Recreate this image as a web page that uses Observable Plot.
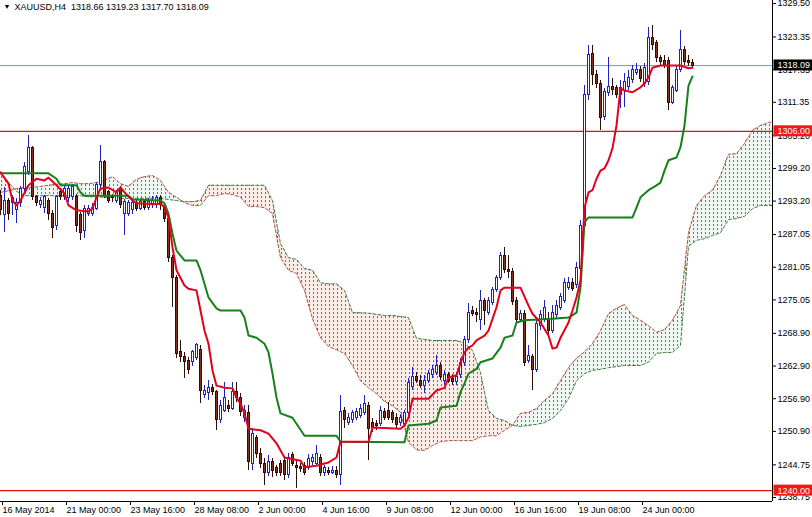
<!DOCTYPE html>
<html><head><meta charset="utf-8">
<script src="https://cdn.jsdelivr.net/npm/d3@7"></script>
<script src="https://cdn.jsdelivr.net/npm/@observablehq/plot@0.6"></script>
<style>
html,body{margin:0;padding:0;background:#fff;}
#chart{width:812px;height:517px;overflow:hidden;}
</style></head><body><div id="chart"></div>
<script>
// ---------- data ----------
const symbolName = "XAUUSD,H4";
const tickBars = [0,16,32,48,64,80,96,112,128,144,160];
const tickLabels = ["16 May 2014","21 May 00:00","23 May 16:00","28 May 08:00","2 Jun 00:00","4 Jun 16:00","9 Jun 08:00","12 Jun 00:00","16 Jun 16:00","19 Jun 08:00","24 Jun 00:00"];
const priceTicks = [1329.50,1323.35,1317.35,1311.35,1305.20,1299.20,1293.20,1287.05,1281.05,1275.05,1268.90,1262.90,1256.90,1250.90,1244.75,1238.75];
const xDomain = [0, 193];
const yDomain = [1238.02, 1330.05];

const openP = [1294.2,1290.6,1293.3,1292.8,1291.5,1292.8,1295.5,1298.5,1302.9,1293.9,1292.4,1292.0,1293.3,1290.9,1288.7,1294.8,1293.9,1293.7,1293.9,1293.9,1290.6,1287.8,1290.9,1290.9,1291.8,1296.1,1300.3,1294.8,1293.9,1293.3,1295.2,1290.9,1290.9,1291.5,1292.8,1291.8,1293.0,1292.0,1292.4,1292.4,1293.7,1292.0,1290.0,1282.8,1279.0,1265.4,1264.5,1263.9,1263.6,1264.3,1265.8,1257.5,1257.9,1258.8,1258.1,1252.9,1254.7,1255.6,1255.1,1258.1,1257.1,1253.3,1254.2,1245.0,1249.6,1246.8,1245.0,1243.3,1245.2,1244.1,1245.0,1245.5,1242.8,1246.5,1244.6,1244.4,1244.6,1244.1,1245.2,1245.0,1246.1,1243.2,1243.7,1243.3,1243.7,1242.8,1254.7,1252.5,1252.9,1253.4,1253.8,1254.2,1255.6,1252.5,1252.2,1252.3,1254.4,1254.7,1254.2,1253.4,1252.5,1252.3,1254.2,1259.0,1260.8,1260.2,1259.3,1260.2,1261.2,1261.7,1263.0,1260.2,1261.2,1260.6,1259.9,1261.2,1263.4,1267.6,1273.1,1272.7,1271.3,1274.9,1272.7,1274.4,1276.8,1279.0,1283.2,1280.5,1280.1,1274.9,1271.3,1272.5,1263.9,1264.5,1262.1,1270.3,1271.6,1271.6,1269.4,1272.2,1273.5,1274.9,1277.3,1278.1,1277.7,1280.8,1288.7,1312.6,1320.3,1316.3,1314.8,1308.6,1313.0,1314.1,1313.9,1312.6,1313.5,1314.1,1315.4,1316.8,1317.2,1314.8,1315.0,1323.1,1322.2,1319.4,1319.0,1319.0,1311.3,1313.5,1317.2,1320.9,1319.0,1318.66];
const highP = [1295.2,1295.7,1293.7,1294.2,1293.7,1295.9,1300.3,1305.2,1303.2,1294.2,1293.9,1294.2,1293.7,1291.5,1294.2,1295.5,1296.1,1296.1,1296.2,1294.4,1291.1,1292.4,1292.4,1292.8,1296.6,1303.4,1300.7,1295.2,1294.4,1295.2,1295.9,1293.5,1293.3,1293.3,1293.3,1293.5,1293.5,1293.7,1294.1,1294.2,1294.2,1292.6,1290.6,1283.2,1279.5,1267.6,1265.4,1264.5,1265.8,1267.0,1266.7,1259.3,1260.2,1259.5,1258.4,1256.6,1259.9,1256.6,1259.9,1259.9,1257.9,1255.6,1255.6,1251.4,1250.1,1247.7,1245.9,1246.5,1245.9,1244.6,1245.5,1246.1,1246.8,1247.0,1245.5,1245.0,1245.2,1246.6,1246.6,1248.3,1246.6,1244.6,1244.3,1244.4,1244.4,1257.5,1255.3,1254.2,1254.7,1255.1,1255.8,1257.5,1256.2,1253.3,1252.9,1255.5,1255.1,1256.2,1254.7,1254.2,1254.0,1254.7,1260.6,1262.6,1261.7,1261.2,1261.2,1262.1,1263.0,1264.8,1263.6,1262.1,1261.7,1261.3,1261.7,1264.3,1268.3,1274.4,1273.8,1273.5,1276.8,1275.3,1275.5,1277.3,1279.5,1283.8,1284.7,1283.2,1280.8,1275.5,1273.1,1273.1,1266.7,1265.0,1271.6,1273.1,1274.9,1272.7,1274.0,1274.9,1276.2,1279.0,1279.2,1279.0,1281.9,1289.6,1314.4,1321.8,1321.8,1317.2,1315.4,1313.9,1319.6,1315.7,1314.4,1315.4,1316.6,1317.2,1318.1,1318.5,1317.9,1318.5,1325.1,1325.5,1322.7,1320.0,1320.0,1319.6,1314.4,1318.1,1324.5,1321.6,1320.0,1319.23];
const lowP = [1290.6,1287.4,1289.6,1290.6,1289.1,1292.0,1294.8,1297.9,1293.3,1292.2,1291.8,1290.9,1289.6,1286.3,1287.8,1293.3,1293.3,1293.0,1293.3,1287.4,1286.0,1286.3,1290.4,1290.4,1291.5,1295.5,1293.7,1292.8,1293.0,1292.8,1291.8,1286.9,1290.4,1290.7,1291.3,1291.5,1291.5,1291.5,1291.8,1291.8,1291.5,1289.3,1281.9,1273.7,1264.3,1263.6,1260.6,1261.3,1262.8,1263.9,1256.0,1256.9,1256.6,1257.5,1251.1,1252.3,1254.4,1254.4,1254.7,1256.2,1253.6,1252.5,1243.7,1243.7,1245.9,1244.1,1241.0,1242.6,1242.4,1242.6,1242.6,1241.9,1242.2,1244.4,1240.4,1243.3,1242.8,1243.7,1244.6,1244.4,1242.6,1242.6,1242.8,1243.0,1242.2,1241.0,1251.4,1252.0,1252.3,1252.9,1253.3,1253.8,1245.5,1250.7,1251.1,1251.8,1252.9,1252.9,1252.3,1251.4,1251.8,1251.8,1253.6,1258.4,1259.7,1258.8,1257.9,1259.7,1260.6,1261.2,1260.2,1259.3,1259.7,1259.3,1259.3,1260.6,1262.8,1267.0,1272.0,1270.9,1269.4,1270.4,1272.2,1274.0,1276.4,1278.6,1279.9,1279.0,1274.0,1270.7,1270.9,1262.8,1263.4,1258.4,1261.7,1269.4,1270.9,1268.5,1268.9,1271.6,1273.1,1274.4,1276.8,1276.6,1277.1,1280.5,1288.2,1311.7,1314.4,1313.9,1306.2,1308.0,1312.4,1312.6,1312.1,1310.2,1310.4,1313.5,1314.8,1316.3,1315.0,1314.1,1314.4,1320.9,1318.7,1317.9,1317.6,1309.8,1310.9,1313.1,1316.8,1318.1,1317.9,1317.70];
const closeP = [1291.5,1293.3,1290.9,1293.7,1292.8,1295.5,1299.4,1302.9,1293.9,1292.8,1293.3,1293.9,1290.9,1288.2,1293.9,1293.9,1295.5,1295.5,1295.7,1288.7,1287.4,1291.8,1291.8,1292.0,1296.1,1300.3,1294.2,1293.3,1293.7,1294.6,1292.4,1293.0,1292.8,1292.8,1291.8,1293.0,1292.0,1293.1,1293.3,1293.7,1292.4,1290.0,1282.8,1279.0,1265.2,1264.5,1263.6,1262.1,1265.4,1266.7,1258.4,1258.4,1258.8,1258.1,1252.9,1255.6,1257.1,1255.1,1258.1,1257.0,1254.4,1254.7,1245.2,1250.5,1246.8,1245.0,1243.2,1245.2,1243.7,1243.3,1243.2,1242.8,1246.1,1245.0,1244.1,1243.9,1243.3,1245.9,1246.1,1246.8,1243.2,1244.1,1243.3,1243.7,1242.8,1254.4,1252.9,1253.4,1254.2,1254.4,1255.1,1256.0,1251.4,1251.6,1251.8,1254.7,1253.4,1253.4,1252.9,1252.0,1253.3,1254.2,1259.7,1260.8,1260.2,1259.3,1260.2,1261.5,1262.1,1263.0,1260.8,1261.2,1260.2,1259.9,1260.8,1263.4,1267.6,1272.7,1272.5,1272.2,1274.9,1273.1,1274.9,1276.8,1279.0,1283.2,1280.5,1280.1,1274.6,1271.3,1272.5,1263.4,1264.7,1262.1,1270.7,1272.2,1273.5,1269.4,1272.7,1274.0,1275.5,1278.1,1278.1,1277.1,1281.0,1288.7,1312.6,1320.0,1316.3,1314.8,1308.4,1313.2,1314.1,1313.7,1312.6,1313.9,1315.0,1315.9,1317.2,1317.2,1315.7,1317.7,1323.1,1321.8,1319.4,1318.7,1318.1,1311.3,1313.9,1317.2,1320.9,1318.7,1318.5,1318.09];

const tenkanBar = [0,2,3,4,5,7,9,11,12,14,16,17,19,22,23,24,25,27,29,30,31,33,34,39,40,41,42,43,44,46,47,49,50,51,52,53,54,56,58,59,60,61,62,65,67,69,71,75,76,79,81,82,84,85,92,93,100,101,102,103,107,109,111,112,114,115,116,117,118,119,121,122,124,125,126,130,132,133,135,137,138,139,140,142,143,144,145,146,147,148,149,150,151,152,153,154,155,156,158,160,161,162,163,165,170,172,173];
const tenkanVal = [1298.5,1296.4,1293.3,1292.4,1293.3,1296.1,1297.3,1297.0,1297.5,1296.1,1294.6,1292.4,1291.5,1291.3,1291.8,1293.9,1295.5,1295.7,1294.8,1295.7,1294.8,1293.3,1292.8,1292.6,1292.8,1292.0,1290.2,1284.7,1280.5,1277.7,1277.1,1276.8,1273.1,1269.4,1267.0,1262.1,1259.3,1258.9,1258.8,1257.1,1256.0,1254.2,1251.4,1251.1,1250.5,1248.7,1246.1,1245.5,1244.3,1244.6,1245.0,1245.2,1246.1,1249.0,1249.0,1251.6,1251.4,1252.0,1253.4,1256.9,1256.9,1258.4,1258.9,1260.8,1261.2,1263.4,1265.4,1266.3,1266.7,1267.6,1268.5,1269.4,1273.7,1276.8,1277.3,1277.3,1274.0,1272.5,1270.9,1268.5,1266.1,1266.3,1268.1,1270.9,1273.1,1275.5,1278.6,1292.0,1294.8,1295.2,1297.3,1298.8,1299.2,1300.7,1302.9,1307.1,1313.9,1313.5,1313.2,1314.1,1314.8,1315.9,1317.7,1318.1,1318.1,1317.6,1317.7];

const kijunBar = [0,12,14,15,19,20,21,32,33,40,41,42,43,44,46,49,50,52,54,55,60,61,62,64,66,67,68,69,70,73,74,76,84,85,101,102,107,109,110,114,115,116,117,119,120,123,125,126,128,129,131,138,142,144,145,146,147,158,159,160,162,164,165,166,167,169,170,171,172,173];
const kijunVal = [1298.3,1298.3,1297.3,1296.1,1296.1,1294.8,1294.2,1294.2,1293.5,1293.3,1292.8,1290.9,1287.2,1284.1,1282.3,1282.3,1280.5,1275.5,1273.5,1273.1,1273.1,1271.8,1268.5,1268.1,1267.0,1265.4,1261.5,1257.1,1254.2,1253.4,1252.3,1250.1,1250.1,1249.0,1248.9,1252.0,1252.3,1252.9,1255.3,1255.6,1258.1,1259.7,1261.5,1262.4,1263.6,1264.3,1266.3,1268.1,1268.5,1270.9,1271.3,1271.6,1271.8,1272.7,1277.3,1289.3,1290.2,1290.2,1292.0,1293.9,1295.2,1296.1,1296.6,1298.8,1300.7,1301.2,1303.1,1307.1,1314.4,1316.1];

const cloudBar = [0,2,4,6,8,10,12,14,16,18,20,22,24,26,28,30,32,34,36,38,40,42,44,46,48,50,52,54,56,58,60,62,64,66,68,70,72,74,76,78,80,82,84,86,88,90,92,94,96,98,100,102,104,106,108,110,112,114,116,118,120,122,124,126,128,130,132,134,136,138,140,142,144,146,148,150,152,154,156,158,160,162,164,166,168,170,172,174,176,178,180,182,184,186,188,190,192,193];
const spanA = [1294.8,1295.1,1295.5,1295.7,1295.7,1295.9,1296.1,1296.3,1296.4,1296.6,1296.4,1296.4,1296.6,1297.0,1297.7,1296.4,1295.9,1297.2,1297.7,1297.9,1297.0,1294.8,1293.9,1292.9,1292.4,1292.4,1294.2,1294.2,1294.6,1294.4,1293.9,1292.2,1292.2,1292.0,1290.9,1282.8,1280.5,1279.9,1276.8,1271.6,1268.1,1266.5,1265.9,1265.2,1263.0,1260.2,1258.9,1257.8,1256.4,1255.6,1254.4,1248.9,1247.5,1247.4,1248.3,1249.0,1249.2,1249.2,1249.2,1249.2,1249.9,1250.1,1250.1,1251.1,1252.0,1254.2,1254.4,1255.1,1256.6,1257.8,1260.2,1262.6,1264.3,1265.5,1267.0,1269.4,1272.5,1273.5,1274.2,1272.2,1271.3,1270.3,1269.1,1269.6,1271.3,1274.0,1287.4,1292.4,1294.2,1295.2,1297.9,1301.8,1301.9,1303.8,1306.2,1307.1,1307.6,1307.8];
const spanB = [1298.5,1296.6,1295.0,1294.2,1294.2,1294.2,1294.2,1294.2,1294.2,1294.2,1294.2,1294.0,1294.0,1293.9,1293.9,1293.7,1293.7,1293.7,1293.7,1293.7,1293.7,1293.5,1293.3,1293.1,1293.1,1293.3,1296.1,1296.1,1296.1,1296.1,1296.1,1296.1,1296.1,1296.1,1293.3,1285.4,1282.8,1282.5,1280.8,1280.5,1278.2,1278.0,1278.0,1276.8,1272.7,1272.7,1272.6,1272.4,1272.2,1272.2,1272.0,1271.8,1268.0,1267.8,1267.6,1267.6,1267.6,1267.6,1267.1,1265.8,1261.7,1254.7,1253.3,1252.9,1252.0,1251.8,1252.0,1252.2,1252.5,1253.3,1254.7,1256.9,1260.2,1261.5,1262.1,1262.3,1262.6,1262.8,1263.0,1263.0,1263.0,1263.6,1265.2,1265.4,1265.4,1266.7,1284.9,1286.0,1286.3,1286.9,1287.4,1289.8,1290.0,1290.4,1291.8,1292.4,1292.4,1292.4];

const bidPrice = 1318.09;
const supportPrices = [1306.00, 1240.00];
const levelPrices = [bidPrice, ...supportPrices];
const levelBoxColors = ["#000000", "#f01818", "#f01818"];

// ---------- derived tables ----------
const bars = openP.map((o, i) => ({i, o, h: highP[i], l: lowP[i], c: closeP[i], top: Math.max(o, closeP[i]), bot: Math.min(o, closeP[i])}));
const upBars = bars.filter(d => d.c >= d.o);
const downBars = bars.filter(d => d.c < d.o);
const cloud = cloudBar.map((b, k) => ({b, a: spanA[k], s: spanB[k], top: Math.max(spanA[k], spanB[k])}));
const tenkan = tenkanBar.map((b, k) => ({b, v: tenkanVal[k]}));
const kijun = kijunBar.map((b, k) => ({b, v: kijunVal[k]}));
const last = bars[bars.length - 1];
const fmt = v => v.toFixed(2);
const titleText = `${symbolName}\u00a0 ${fmt(last.o)} ${fmt(last.h)} ${fmt(last.l)} ${fmt(last.c)}`;

const bull = "#2020c8", bearFill = "#86321f", bearLine = "#2a0f06";
const crisp = {shapeRendering: "crispEdges"};

const chart = Plot.plot({
  width: 812, height: 517,
  marginLeft: 0, marginRight: 40, marginTop: 0, marginBottom: 16,
  x: {domain: xDomain},
  y: {domain: yDomain},
  style: {fontFamily: "'Liberation Sans', Arial, sans-serif", fontSize: "9px", background: "white", color: "black", overflow: "visible"},
  marks: [
    Plot.areaY(cloud, {x: "b", y1: "a", y2: "top", fill: "url(#dotsRed)"}),
    Plot.areaY(cloud, {x: "b", y1: "s", y2: "top", fill: "url(#dotsGreen)"}),
    Plot.line(cloud, {x: "b", y: "a", stroke: "#b4503c", strokeWidth: 1, strokeDasharray: "3,2"}),
    Plot.line(cloud, {x: "b", y: "s", stroke: "#3d7a3d", strokeWidth: 1, strokeDasharray: "3,2"}),
    Plot.ruleY([bidPrice], {stroke: "#7f95ad", strokeWidth: 1}),
    Plot.ruleY(supportPrices, {stroke: "#e01010", strokeWidth: 1.2}),
    Plot.ruleX(upBars, {x: "i", y1: "top", y2: "h", stroke: bull, strokeWidth: 1, ...crisp}),
    Plot.ruleX(upBars, {x: "i", y1: "l", y2: "bot", stroke: bull, strokeWidth: 1, ...crisp}),
    Plot.ruleX(downBars, {x: "i", y1: "top", y2: "h", stroke: bearLine, strokeWidth: 1, ...crisp}),
    Plot.ruleX(downBars, {x: "i", y1: "l", y2: "bot", stroke: bearLine, strokeWidth: 1, ...crisp}),
    Plot.rect(upBars, {x1: d => d.i - 0.25, x2: d => d.i + 0.25, y1: "o", y2: "c", fill: "white", stroke: bull, strokeWidth: 1, ...crisp}),
    Plot.rect(downBars, {x1: d => d.i - 0.25, x2: d => d.i + 0.25, y1: "o", y2: "c", fill: bearFill, stroke: bearLine, strokeWidth: 1, ...crisp}),
    Plot.line(kijun, {x: "b", y: "v", stroke: "#16801a", strokeWidth: 2}),
    Plot.line(tenkan, {x: "b", y: "v", stroke: "#e4001c", strokeWidth: 2}),
    Plot.ruleX([xDomain[1]], {stroke: "black", strokeWidth: 1, ...crisp}),
    Plot.ruleY([yDomain[0]], {stroke: "black", strokeWidth: 1, ...crisp}),
    Plot.axisX({ticks: tickBars, tickFormat: d => tickLabels[tickBars.indexOf(d)], tickSize: 4, tickPadding: 1, textAnchor: "start", dx: 2, label: null, fontSize: 9}),
    Plot.axisY({anchor: "right", ticks: priceTicks, tickFormat: fmt, tickSize: 3, tickPadding: 2, label: null, fontSize: 9}),
    Plot.text(levelPrices, {y: d => d, frameAnchor: "right", dx: 5, textAnchor: "start", text: d => fmt(d), fill: "white", fontSize: 9, className: "lvl"}),
    Plot.text([titleText], {text: d => d, frameAnchor: "top-left", dx: 14, dy: 3, textAnchor: "start", lineAnchor: "top", fontSize: 9, fill: "black"}),
    Plot.text(["\u25BC"], {text: d => d, frameAnchor: "top-left", dx: 3, dy: 4, textAnchor: "start", lineAnchor: "top", fontSize: 7, fill: "black"})
  ]
});

document.getElementById("chart").append(chart);

// patterns for the cloud's dotted fill
const NS = "http://www.w3.org/2000/svg";
const defs = document.createElementNS(NS, "defs");
function makePattern(id, bg, dash) {
  const p = document.createElementNS(NS, "pattern");
  p.setAttribute("id", id); p.setAttribute("width", 4); p.setAttribute("height", 4);
  p.setAttribute("patternUnits", "userSpaceOnUse");
  const r0 = document.createElementNS(NS, "rect");
  r0.setAttribute("width", 4); r0.setAttribute("height", 4); r0.setAttribute("fill", bg);
  const r1 = document.createElementNS(NS, "rect");
  r1.setAttribute("x", 1); r1.setAttribute("y", 0); r1.setAttribute("width", 1); r1.setAttribute("height", 2); r1.setAttribute("fill", dash);
  p.append(r0, r1); defs.append(p);
}
makePattern("dotsRed", "#fbeee8", "#c2503a");
makePattern("dotsGreen", "#eef7f1", "#3f9066");
chart.insertBefore(defs, chart.firstChild);

// boxes behind the level labels
const lvlTexts = chart.querySelectorAll("g.lvl text");
lvlTexts.forEach((t, k) => {
  const bb = t.getBBox();
  const r = document.createElementNS(NS, "rect");
  r.setAttribute("x", bb.x - 4); r.setAttribute("y", bb.y - 1);
  r.setAttribute("width", bb.width + 8); r.setAttribute("height", bb.height + 1);
  r.setAttribute("fill", levelBoxColors[k]);
  if (t.getAttribute("transform")) r.setAttribute("transform", t.getAttribute("transform"));
  t.parentNode.insertBefore(r, t);
});
</script></body></html>
